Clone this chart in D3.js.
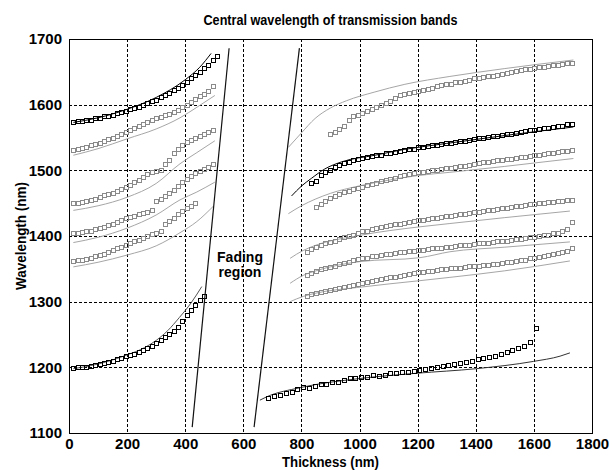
<!DOCTYPE html>
<html>
<head>
<meta charset="utf-8">
<script src="https://cdn.jsdelivr.net/npm/d3@7"></script>
<style>
  body { margin: 0; background: #fff; }
  svg text { font-family: "Liberation Sans", Arial, sans-serif; font-weight: bold; fill: #000; }
</style>
</head>
<body>
<svg id="chart" width="612" height="470"></svg>
<script>
// ---- Axis ticks ----
const thicknessTicks = [0, 200, 400, 600, 800, 1000, 1200, 1400, 1600, 1800];
const wavelengthTicks = [1100, 1200, 1300, 1400, 1500, 1600, 1700];

// ---- Sample thicknesses (nm) of the measured bands ----
const leftThickness = [15, 30, 45, 60, 75, 90, 105, 120, 135, 150, 165, 180, 195, 210, 225, 240, 255,
  270, 285, 300, 315, 330, 345, 360, 375, 390, 405, 420, 435, 450, 465, 480, 495, 510];
const rightThickness = [818, 834, 850, 866, 882, 898, 914, 930, 946, 962, 978, 994, 1010, 1026, 1042,
  1058, 1074, 1090, 1106, 1122, 1138, 1154, 1170, 1186, 1202, 1218, 1234, 1250, 1266, 1282, 1298,
  1314, 1330, 1346, 1362, 1378, 1394, 1410, 1426, 1442, 1458, 1474, 1490, 1506, 1522, 1538, 1554,
  1570, 1586, 1602, 1618, 1634, 1650, 1666, 1682, 1698, 1714, 1730];
const lowRightThickness = [686, 706, 726, 746, 766, 786, 806, 826, 846, 866, 886, 906, 926, 946, 966,
  986, 1006, 1026, 1046, 1066, 1086, 1106, 1126, 1146, 1166, 1186, 1206, 1226, 1246, 1266, 1286,
  1306, 1326, 1346, 1366, 1386, 1406, 1426, 1446, 1466, 1486, 1506, 1526, 1546, 1566, 1586, 1606];

// ---- Measured central wavelengths (nm), thin side (start at leftThickness[0]) ----
const measLeft1 = [1574, 1575, 1575, 1576, 1577, 1579, 1580, 1582, 1583, 1585, 1587, 1589, 1591, 1593,
  1595, 1597, 1599, 1602, 1605, 1607, 1611, 1614, 1618, 1622, 1626, 1630, 1635, 1640, 1645, 1650,
  1656, 1661, 1668, 1674];
const measLeft2 = [1531, 1533, 1534, 1536, 1538, 1540, 1542, 1545, 1547, 1549, 1552, 1555, 1558, 1561,
  1564, 1567, 1570, 1573, 1576, 1579, 1581, 1584, 1586, 1589, 1592, 1596, 1600, 1604, 1608, 1613,
  1617, 1621, 1628];
const measLeft3 = [1450, 1451, 1452, 1453, 1455, 1457, 1459, 1462, 1464, 1466, 1469, 1472, 1475, 1478,
  1482, 1486, 1490, 1494, 1497, 1499, 1500, 1510, 1516, 1526, 1532, 1539, 1543, 1546, 1549, 1552,
  1555, 1558, 1561];
const measLeft4 = [1404, 1405, 1406, 1407, 1408, 1410, 1412, 1414, 1416, 1418, 1421, 1424, 1427, 1429,
  1431, 1433, 1435, 1437, 1439, 1453, 1457, 1461, 1465, 1470, 1476, 1482, 1487, 1492, 1496, 1499,
  1502, 1505, 1509];
const measLeft5 = [1362, 1363, 1364, 1365, 1367, 1369, 1371, 1373, 1376, 1378, 1381, 1384, 1387, 1390,
  1392, 1394, 1397, 1400, 1403, 1405, 1407, 1419, 1423, 1428, 1433, 1438, 1442, 1446, 1450];
const measLeft6 = [1199, 1200, 1200, 1201, 1202, 1203, 1205, 1206, 1208, 1210, 1212, 1214, 1217, 1219,
  1221, 1224, 1227, 1230, 1233, 1237, 1241, 1246, 1251, 1256, 1261, 1270, 1279, 1287, 1295, 1302, 1308];

// ---- Measured central wavelengths (nm), thick side (end at the last thickness) ----
const measRight1 = [1555, 1559, 1563, 1568, 1576, 1582, 1585, 1588, 1591, 1594, 1597, 1600, 1603, 1606,
  1610, 1614, 1616, 1618, 1619, 1621, 1622, 1624, 1626, 1628, 1630, 1631, 1632, 1634, 1635, 1636,
  1638, 1640, 1641, 1642, 1643, 1644, 1645, 1647, 1648, 1650, 1651, 1653, 1654, 1655, 1656, 1657,
  1658, 1659, 1660, 1661, 1662, 1663, 1663];
const measRight2 = [1481, 1483, 1493, 1497, 1500, 1505, 1508, 1511, 1513, 1515, 1518, 1519, 1521, 1522,
  1524, 1524, 1526, 1527, 1528, 1530, 1531, 1532, 1533, 1535, 1536, 1537, 1538, 1539, 1540, 1541,
  1542, 1543, 1544, 1545, 1546, 1548, 1549, 1550, 1551, 1552, 1553, 1554, 1555, 1556, 1557, 1558,
  1560, 1561, 1562, 1563, 1564, 1565, 1566, 1567, 1568, 1570, 1571];
const measRight3 = [1444, 1449, 1454, 1458, 1461, 1464, 1467, 1469, 1471, 1473, 1475, 1477, 1479, 1481,
  1483, 1485, 1487, 1489, 1491, 1493, 1494, 1496, 1497, 1498, 1499, 1500, 1501, 1502, 1503, 1504,
  1505, 1506, 1507, 1508, 1509, 1511, 1512, 1513, 1514, 1515, 1516, 1517, 1518, 1519, 1520, 1521,
  1522, 1523, 1524, 1525, 1526, 1527, 1528, 1529, 1530, 1531];
const measRight4 = [1376, 1380, 1383, 1386, 1389, 1391, 1393, 1396, 1398, 1400, 1402, 1405, 1407, 1408,
  1410, 1412, 1413, 1415, 1416, 1418, 1419, 1420, 1422, 1423, 1424, 1425, 1426, 1428, 1428, 1429,
  1430, 1431, 1432, 1433, 1434, 1435, 1436, 1437, 1438, 1439, 1440, 1441, 1442, 1443, 1444, 1445,
  1446, 1447, 1448, 1449, 1450, 1451, 1452, 1452, 1453, 1454, 1455, 1455];
const measRight5 = [1340, 1343, 1346, 1349, 1351, 1353, 1355, 1357, 1359, 1361, 1363, 1365, 1366, 1367,
  1369, 1370, 1371, 1372, 1373, 1374, 1375, 1376, 1377, 1377, 1378, 1379, 1380, 1381, 1381, 1382,
  1383, 1384, 1385, 1386, 1386, 1387, 1388, 1389, 1390, 1390, 1391, 1392, 1392, 1393, 1394, 1395,
  1396, 1397, 1398, 1399, 1400, 1401, 1402, 1404, 1405, 1407, 1410, 1421];
const measRight6 = [1308, 1311, 1313, 1315, 1317, 1318, 1320, 1321, 1322, 1324, 1326, 1327, 1329, 1330,
  1331, 1333, 1334, 1336, 1337, 1338, 1339, 1341, 1342, 1343, 1345, 1345, 1346, 1347, 1348, 1349,
  1350, 1351, 1352, 1352, 1353, 1354, 1354, 1355, 1356, 1356, 1357, 1358, 1359, 1360, 1361, 1362,
  1363, 1364, 1366, 1367, 1368, 1369, 1371, 1372, 1374, 1375, 1377, 1381];
const measLowRight = [1153, 1156, 1158, 1161, 1163, 1167, 1170, 1168, 1172, 1174, 1175, 1177, 1178,
  1181, 1183, 1184, 1185, 1186, 1188, 1187, 1189, 1191, 1192, 1193, 1193, 1195, 1196, 1198, 1199,
  1201, 1202, 1204, 1205, 1207, 1208, 1210, 1212, 1214, 1216, 1218, 1220, 1223, 1226, 1229, 1233,
  1239, 1260];

// ---- Calculated band centres: [thickness, wavelength] ----
const calcLeft1 = [[15, 1573], [100, 1580], [200, 1593], [300, 1611], [400, 1638], [450, 1657], [489, 1678]];
const calcLeft2 = [[15, 1523], [100, 1533], [200, 1548], [300, 1563], [382, 1580], [440, 1596], [502, 1614]];
const calcLeft3 = [[15, 1439], [100, 1446], [200, 1459], [300, 1480], [382, 1510], [440, 1527], [502, 1545]];
const calcLeft4 = [[15, 1390], [100, 1398], [200, 1412], [300, 1432], [382, 1455], [440, 1467], [502, 1482]];
const calcLeft5 = [[15, 1353], [100, 1360], [200, 1371], [300, 1385], [382, 1405], [440, 1422], [496, 1445]];
const calcLeft6 = [[15, 1198], [100, 1205], [200, 1219], [260, 1230], [300, 1241], [340, 1256], [380, 1276], [420, 1298], [457, 1323]];
const calcRight1 = [[755, 1535], [800, 1557], [847, 1579], [900, 1595], [955, 1606], [1050, 1619], [1156, 1631], [1311, 1643], [1500, 1655], [1736, 1668]];
const calcRight2 = [[766, 1461], [800, 1476], [835, 1488], [880, 1502], [939, 1513], [1053, 1523], [1156, 1532], [1300, 1541], [1500, 1553], [1736, 1566]];
const calcRight3 = [[755, 1434], [800, 1446], [847, 1456], [900, 1465], [996, 1476], [1100, 1485], [1200, 1492], [1311, 1497], [1500, 1506], [1736, 1518]];
const calcRight4 = [[761, 1366], [806, 1378], [850, 1386], [1001, 1401], [1208, 1414], [1311, 1419], [1500, 1428], [1724, 1438]];
const calcRight5 = [[761, 1328], [806, 1340], [850, 1347], [1001, 1361], [1208, 1367], [1311, 1376], [1500, 1383], [1724, 1391]];
const calcRight6 = [[761, 1300], [806, 1308], [850, 1313], [1001, 1322], [1208, 1332], [1311, 1337], [1500, 1347], [1724, 1362]];
const calcLowRight = [[657, 1150], [680, 1155], [795, 1169], [1001, 1183], [1197, 1191], [1403, 1198], [1598, 1209], [1690, 1217], [1724, 1222]];

// ---- Boundaries of the fading region ----
const fadingLow = [[424, 1109], [551, 1686]];
const fadingHigh = [[637, 1109], [793, 1686]];

// ---- Layout ----
const svg = d3.select("#chart");
const margin = { left: 69, right: 592, top: 39, bottom: 433 };
const x = d3.scaleLinear().domain([0, 1800]).range([margin.left, margin.right]);
const y = d3.scaleLinear().domain([1100, 1700]).range([margin.bottom, margin.top]);

const BLACK = "#000";
const GREY_MARK = "#8a8a8a";
const GREY_LINE = "#a6a6a6";

// pair thickness samples with wavelengths; right-side runs share their last sample
function pairStart(ts, vals) { return vals.map((v, i) => [ts[i], v]); }
function pairEnd(ts, vals) { const off = ts.length - vals.length; return vals.map((v, i) => [ts[off + i], v]); }

const markerSets = [
  { pts: pairStart(leftThickness, measLeft1), color: BLACK },
  { pts: pairStart(leftThickness, measLeft2), color: GREY_MARK },
  { pts: pairStart(leftThickness, measLeft3), color: GREY_MARK },
  { pts: pairStart(leftThickness, measLeft4), color: GREY_MARK },
  { pts: pairStart(leftThickness, measLeft5), color: GREY_MARK },
  { pts: pairStart(leftThickness, measLeft6), color: BLACK },
  { pts: pairEnd(rightThickness, measRight1), color: GREY_MARK },
  { pts: pairEnd(rightThickness, measRight2), color: BLACK },
  { pts: pairEnd(rightThickness, measRight3), color: GREY_MARK },
  { pts: pairEnd(rightThickness, measRight4), color: GREY_MARK },
  { pts: pairEnd(rightThickness, measRight5), color: GREY_MARK },
  { pts: pairEnd(rightThickness, measRight6), color: GREY_MARK },
  { pts: pairStart(lowRightThickness, measLowRight), color: BLACK }
];

const lineSets = [
  { pts: calcLeft1, color: BLACK },
  { pts: calcLeft2, color: GREY_LINE },
  { pts: calcLeft3, color: GREY_LINE },
  { pts: calcLeft4, color: GREY_LINE },
  { pts: calcLeft5, color: GREY_LINE },
  { pts: calcLeft6, color: "#555" },
  { pts: calcRight1, color: GREY_LINE },
  { pts: calcRight2, color: BLACK },
  { pts: calcRight3, color: GREY_LINE },
  { pts: calcRight4, color: GREY_LINE },
  { pts: calcRight5, color: GREY_LINE },
  { pts: calcRight6, color: GREY_LINE },
  { pts: calcLowRight, color: "#333" }
];

// ---- Grid ----
const snap = v => Math.round(v) + 0.5;
const grid = svg.append("g").attr("stroke", "#000").attr("stroke-width", 1)
  .attr("stroke-dasharray", "3,2").attr("shape-rendering", "crispEdges");
grid.selectAll("line.v").data(thicknessTicks.slice(1, -1)).join("line")
  .attr("x1", d => snap(x(d))).attr("x2", d => snap(x(d)))
  .attr("y1", margin.top).attr("y2", margin.bottom);
grid.selectAll("line.h").data(wavelengthTicks.slice(1, -1)).join("line")
  .attr("x1", margin.left).attr("x2", margin.right)
  .attr("y1", d => snap(y(d))).attr("y2", d => snap(y(d)));

// ---- Calculated curves ----
const curve = d3.line().x(d => x(d[0])).y(d => y(d[1])).curve(d3.curveMonotoneX);
svg.append("g").selectAll("path").data(lineSets).join("path")
  .attr("d", d => curve(d.pts)).attr("fill", "none")
  .attr("stroke", d => d.color).attr("stroke-width", 1);

// ---- Measured markers ----
const marks = svg.append("g").attr("shape-rendering", "crispEdges");
markerSets.forEach(set => {
  marks.append("g").selectAll("rect").data(set.pts).join("rect")
    .attr("x", d => Math.round(x(d[0])) - 2 + 0.5)
    .attr("y", d => Math.round(y(d[1])) - 2 + 0.5)
    .attr("width", 4).attr("height", 4)
    .attr("fill", "none").attr("stroke", set.color).attr("stroke-width", 1);
});

// ---- Fading region boundaries ----
const straight = d3.line().x(d => x(d[0])).y(d => y(d[1]));
svg.append("g").selectAll("path").data([fadingLow, fadingHigh]).join("path")
  .attr("d", straight).attr("fill", "none").attr("stroke", "#111").attr("stroke-width", 1.2);

svg.append("text").attr("x", 240).attr("y", 262).attr("text-anchor", "middle")
  .style("font-size", "14px").text("Fading");
svg.append("text").attr("x", 240).attr("y", 277).attr("text-anchor", "middle")
  .style("font-size", "14px").text("region");

// ---- Frame ----
svg.append("rect").attr("x", margin.left + 0.5).attr("y", margin.top + 0.5)
  .attr("width", margin.right - margin.left).attr("height", margin.bottom - margin.top)
  .attr("fill", "none").attr("stroke", "#000").attr("stroke-width", 1)
  .attr("shape-rendering", "crispEdges");

// ---- Axes ----
const xAxis = d3.axisBottom(x).tickValues(thicknessTicks).tickSize(0).tickPadding(5).tickFormat(d3.format("d"));
const yAxis = d3.axisLeft(y).tickValues(wavelengthTicks).tickSize(0).tickPadding(7).tickFormat(d3.format("d"));
const gx = svg.append("g").attr("transform", `translate(0,${margin.bottom})`).call(xAxis);
const gy = svg.append("g").attr("transform", `translate(${margin.left},0)`).call(yAxis);
[gx, gy].forEach(g => {
  g.select(".domain").remove();
  g.selectAll("text").attr("fill", "#000").style("font-size", "15px")
    .style("font-family", '"Liberation Sans", Arial, sans-serif').style("font-weight", "bold");
});

// ---- Titles ----
svg.append("text").attr("x", (margin.left + margin.right) / 2).attr("y", 25)
  .attr("text-anchor", "middle").style("font-size", "15px")
  .attr("textLength", 254).attr("lengthAdjust", "spacingAndGlyphs")
  .text("Central wavelength of transmission bands");
svg.append("text").attr("x", (margin.left + margin.right) / 2).attr("y", 467)
  .attr("text-anchor", "middle").style("font-size", "14.5px")
  .attr("textLength", 97).attr("lengthAdjust", "spacingAndGlyphs").text("Thickness (nm)");
svg.append("text").attr("transform", `translate(26,${(margin.top + margin.bottom) / 2}) rotate(-90)`)
  .attr("text-anchor", "middle").style("font-size", "14.5px")
  .attr("textLength", 108).attr("lengthAdjust", "spacingAndGlyphs").text("Wavelength (nm)");
</script>
</body>
</html>
